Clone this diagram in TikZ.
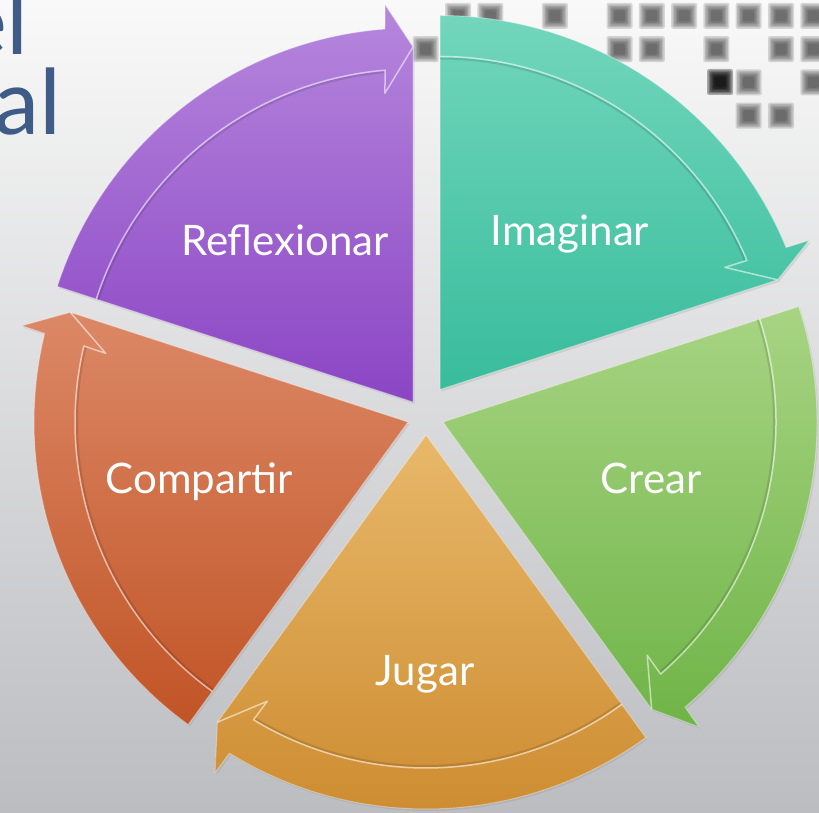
\documentclass[tikz,border=0pt]{standalone}
\usepackage{fontspec}
\setmainfont{Lato}
\newfontfamily\titlefont{Carlito}
\usepackage{tikz}
\usetikzlibrary{positioning, shadows}

\definecolor{bgTop}{HTML}{F9F9F9}
\definecolor{bgMid}{HTML}{E4E4E6}
\definecolor{bgBot}{HTML}{BCBDC1}
\definecolor{titleBlue}{HTML}{3E5C86}
\definecolor{reflTop}{HTML}{B687DD}
\definecolor{reflBot}{HTML}{8B45C4}
\definecolor{imagTop}{HTML}{72D6BC}
\definecolor{imagBot}{HTML}{38BC9C}
\definecolor{crearTop}{HTML}{A8D483}
\definecolor{crearBot}{HTML}{6FB447}
\definecolor{jugarTop}{HTML}{E8B86A}
\definecolor{jugarBot}{HTML}{CC8A2E}
\definecolor{compTop}{HTML}{DC8866}
\definecolor{compBot}{HTML}{C15426}

\tikzset{
  x=1pt, y=1pt,
  segment/.style={draw=white, draw opacity=.35, line width=1pt, line join=round,
    drop shadow={shadow xshift=1.5pt, shadow yshift=-2pt, opacity=.18}},
  bandshade/.style={draw=black, opacity=.12, line width=2pt, line join=round},
  bandline/.style={draw=white, opacity=.55, line width=1.5pt, line join=round},
  segtext/.style={text=white, font=\fontsize{42}{50}\selectfont, inner sep=0pt, anchor=base},
  titletext/.style={text=titleBlue, font=\titlefont\fontsize{96}{100}\selectfont, inner sep=0pt, anchor=base east},
  pixsq/.style={fill=black!85, opacity=.16, rounded corners=2pt}
}

\begin{document}
\begin{tikzpicture}
\useasboundingbox (0,0) rectangle (819,812);
\clip (0,0) rectangle (819,812);
\shade[top color=bgTop, middle color=bgMid, bottom color=bgBot] (0,0) rectangle (819,812);

% blurred squares, top right
\foreach \k/\r in {-5/0,-4/0,-2/0,0/0,1/0,3/0,5/0,6/0,7/0,8/0,9/0,10/0,11/0,
                   0/1,1/1,3/1,5/1,6/1,7/1,8/1,9/1,10/1,11/1,
                   -1/2,5/2,6/2,8/2,10/2,11/2,
                   9/3,11/3,
                   9/4,10/4}{
  \pgfmathsetmacro\px{458+32.3*\k}
  \pgfmathsetmacro\py{829.5-33.3*\r}
  \foreach \s in {13,11.5,10,8.5,7,5.5}
    \fill[pixsq] (\px-\s,\py-\s) rectangle (\px+\s,\py+\s);
}
\foreach \s in {13,11.5,10,8.5,7,5.5}
  \fill[pixsq, fill=black, opacity=.3] (720-\s,730-\s) rectangle (720+\s,730+\s);

% title, cut at the left edge
\node[titletext] (titleA) at (29,757) {el};
\node[titletext] (titleB) at (62,677) {al};

% apex of each segment
\coordinate (refl) at (413,410);
\coordinate (imag) at (440,422.5);
\coordinate (crear) at (443,390);
\coordinate (jugar) at (426,377);
\coordinate (comp) at (408,390);

\begin{scope}[shift={(refl)}]
  \path[segment, top color=reflTop, bottom color=reflBot]
    (0,0) -- (162:374) arc[start angle=162, end angle=94.3, radius=374]
    -- (94:398) -- (90:355) -- cycle;
  \draw[bandshade] (162:331) arc[start angle=162, end angle=94.9, radius=331];
  \draw[bandline] (162:333) arc[start angle=162, end angle=94.8, radius=333]
    -- (95.2:310) -- (90:355);
\end{scope}

\begin{scope}[shift={(imag)}]
  \path[segment, top color=imagTop, bottom color=imagBot]
    (0,0) -- (90:374) arc[start angle=90, end angle=22.3, radius=374]
    -- (22:398) -- (18:355) -- cycle;
  \draw[bandshade] (90:331) arc[start angle=90, end angle=22.9, radius=331];
  \draw[bandline] (90:333) arc[start angle=90, end angle=22.8, radius=333]
    -- (23.2:310) -- (18:355);
\end{scope}

\begin{scope}[shift={(crear)}]
  \path[segment, top color=crearTop, bottom color=crearBot]
    (0,0) -- (18:374) arc[start angle=18, end angle=-49.7, radius=374]
    -- (-50:398) -- (-54:355) -- cycle;
  \draw[bandshade] (18:331) arc[start angle=18, end angle=-49.1, radius=331];
  \draw[bandline] (18:333) arc[start angle=18, end angle=-49.2, radius=333]
    -- (-48.8:310) -- (-54:355);
\end{scope}

\begin{scope}[shift={(jugar)}]
  \path[segment, top color=jugarTop, bottom color=jugarBot]
    (0,0) -- (-54:374) arc[start angle=-54, end angle=-121.7, radius=374]
    -- (-122:398) -- (-126:355) -- cycle;
  \draw[bandshade] (-54:331) arc[start angle=-54, end angle=-121.1, radius=331];
  \draw[bandline] (-54:333) arc[start angle=-54, end angle=-121.2, radius=333]
    -- (-120.8:310) -- (-126:355);
\end{scope}

\begin{scope}[shift={(comp)}]
  \path[segment, top color=compTop, bottom color=compBot]
    (0,0) -- (-126:374) arc[start angle=-126, end angle=-193.7, radius=374]
    -- (-194:398) -- (-198:355) -- cycle;
  \draw[bandshade] (-126:331) arc[start angle=-126, end angle=-193.1, radius=331];
  \draw[bandline] (-126:333) arc[start angle=-126, end angle=-193.2, radius=333]
    -- (-192.8:310) -- (-198:355);
\end{scope}

% segment names
\node[segtext] (reflexionar) at (285,556) {Reflexionar};
\node[segtext] (imaginar) at (570,566) {Imaginar};
\node[segtext] (crearText) at (651,318) {Crear};
\node[segtext] (jugarText) at (425,127) {Jugar};
\node[segtext] (compartir) at (199,318) {Compartir};
\end{tikzpicture}
\end{document}
